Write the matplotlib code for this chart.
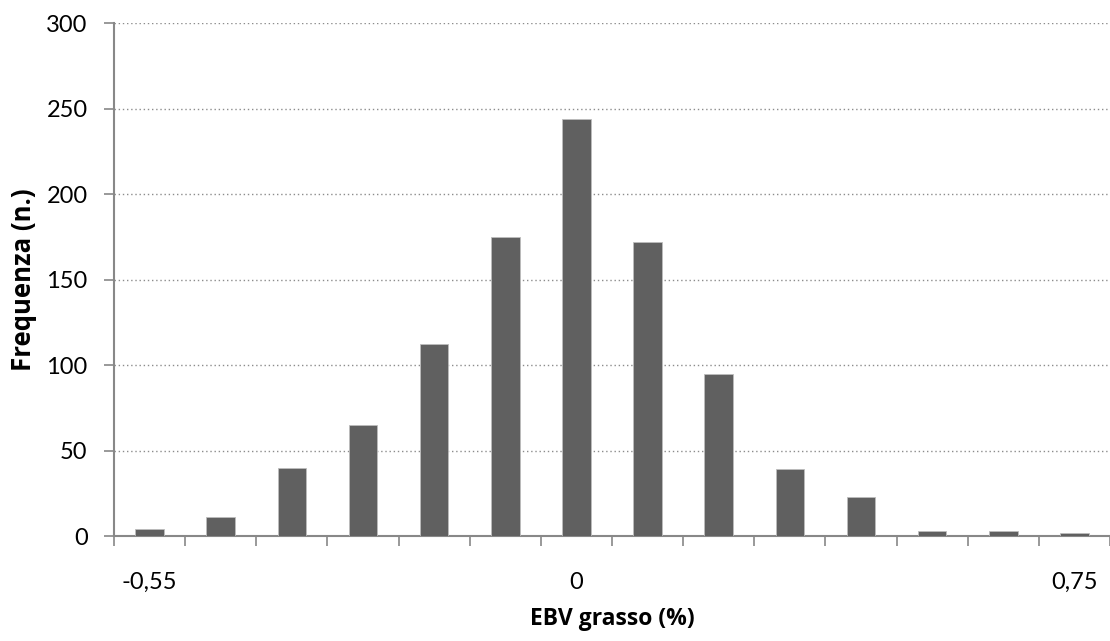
import numpy as np
import matplotlib
matplotlib.use('Agg')
import matplotlib.pyplot as plt
from matplotlib.ticker import FixedLocator

# Dati
frequenze = [4, 11, 40, 65, 112, 175, 244, 172, 95, 39, 23, 3, 3, 2]
etichette = ['-0,55', '', '', '', '', '', '0', '', '', '', '', '', '', '0,75']
y_ticks = [0, 50, 100, 150, 200, 250, 300]

plt.rcParams['font.family'] = ['Lato', 'DejaVu Sans']

fig = plt.figure(figsize=(11.1, 6.41), dpi=100)
ax = fig.add_axes([0.1027, 0.1638, 0.8973, 0.8003])

x = np.arange(len(frequenze))
ax.bar(x, frequenze, width=0.4, color='#606060', edgecolor='#bdbdbd', linewidth=0.6, zorder=3)

ax.set_xlim(-0.5, len(frequenze) - 0.5)
ax.set_ylim(0, 300)
ax.set_yticks(y_ticks)
ax.tick_params(axis='y', labelsize=17, length=7, width=1.2, color='#888888', pad=12)

# etichette al centro delle barre, tacche sui bordi delle categorie
ax.set_xticks(x)
ax.set_xticklabels(etichette)
ax.tick_params(axis='x', which='major', length=0, labelsize=17, pad=26)
ax.xaxis.set_minor_locator(FixedLocator(np.arange(-0.5, len(frequenze), 1.0)))
ax.tick_params(axis='x', which='minor', length=7, width=1.2, color='#888888')

ax.grid(axis='y', linestyle=(0, (1, 2)), color='#8c8c8c', linewidth=1, zorder=0)
for g in ax.get_ygridlines()[:1]:
    g.set_visible(False)

for s in ['top', 'right']:
    ax.spines[s].set_visible(False)
for s in ['left', 'bottom']:
    ax.spines[s].set_color('#888888')
    ax.spines[s].set_linewidth(1.5)

ax.set_xlabel('EBV grasso (%)', fontsize=16.5, fontweight='bold',
              family=['Open Sans', 'DejaVu Sans'], labelpad=10)
ax.set_ylabel('Frequenza (n.)', fontsize=18.5, fontweight='bold',
              family=['Open Sans', 'DejaVu Sans'], labelpad=7)

fig.savefig('out.png', dpi=100)
